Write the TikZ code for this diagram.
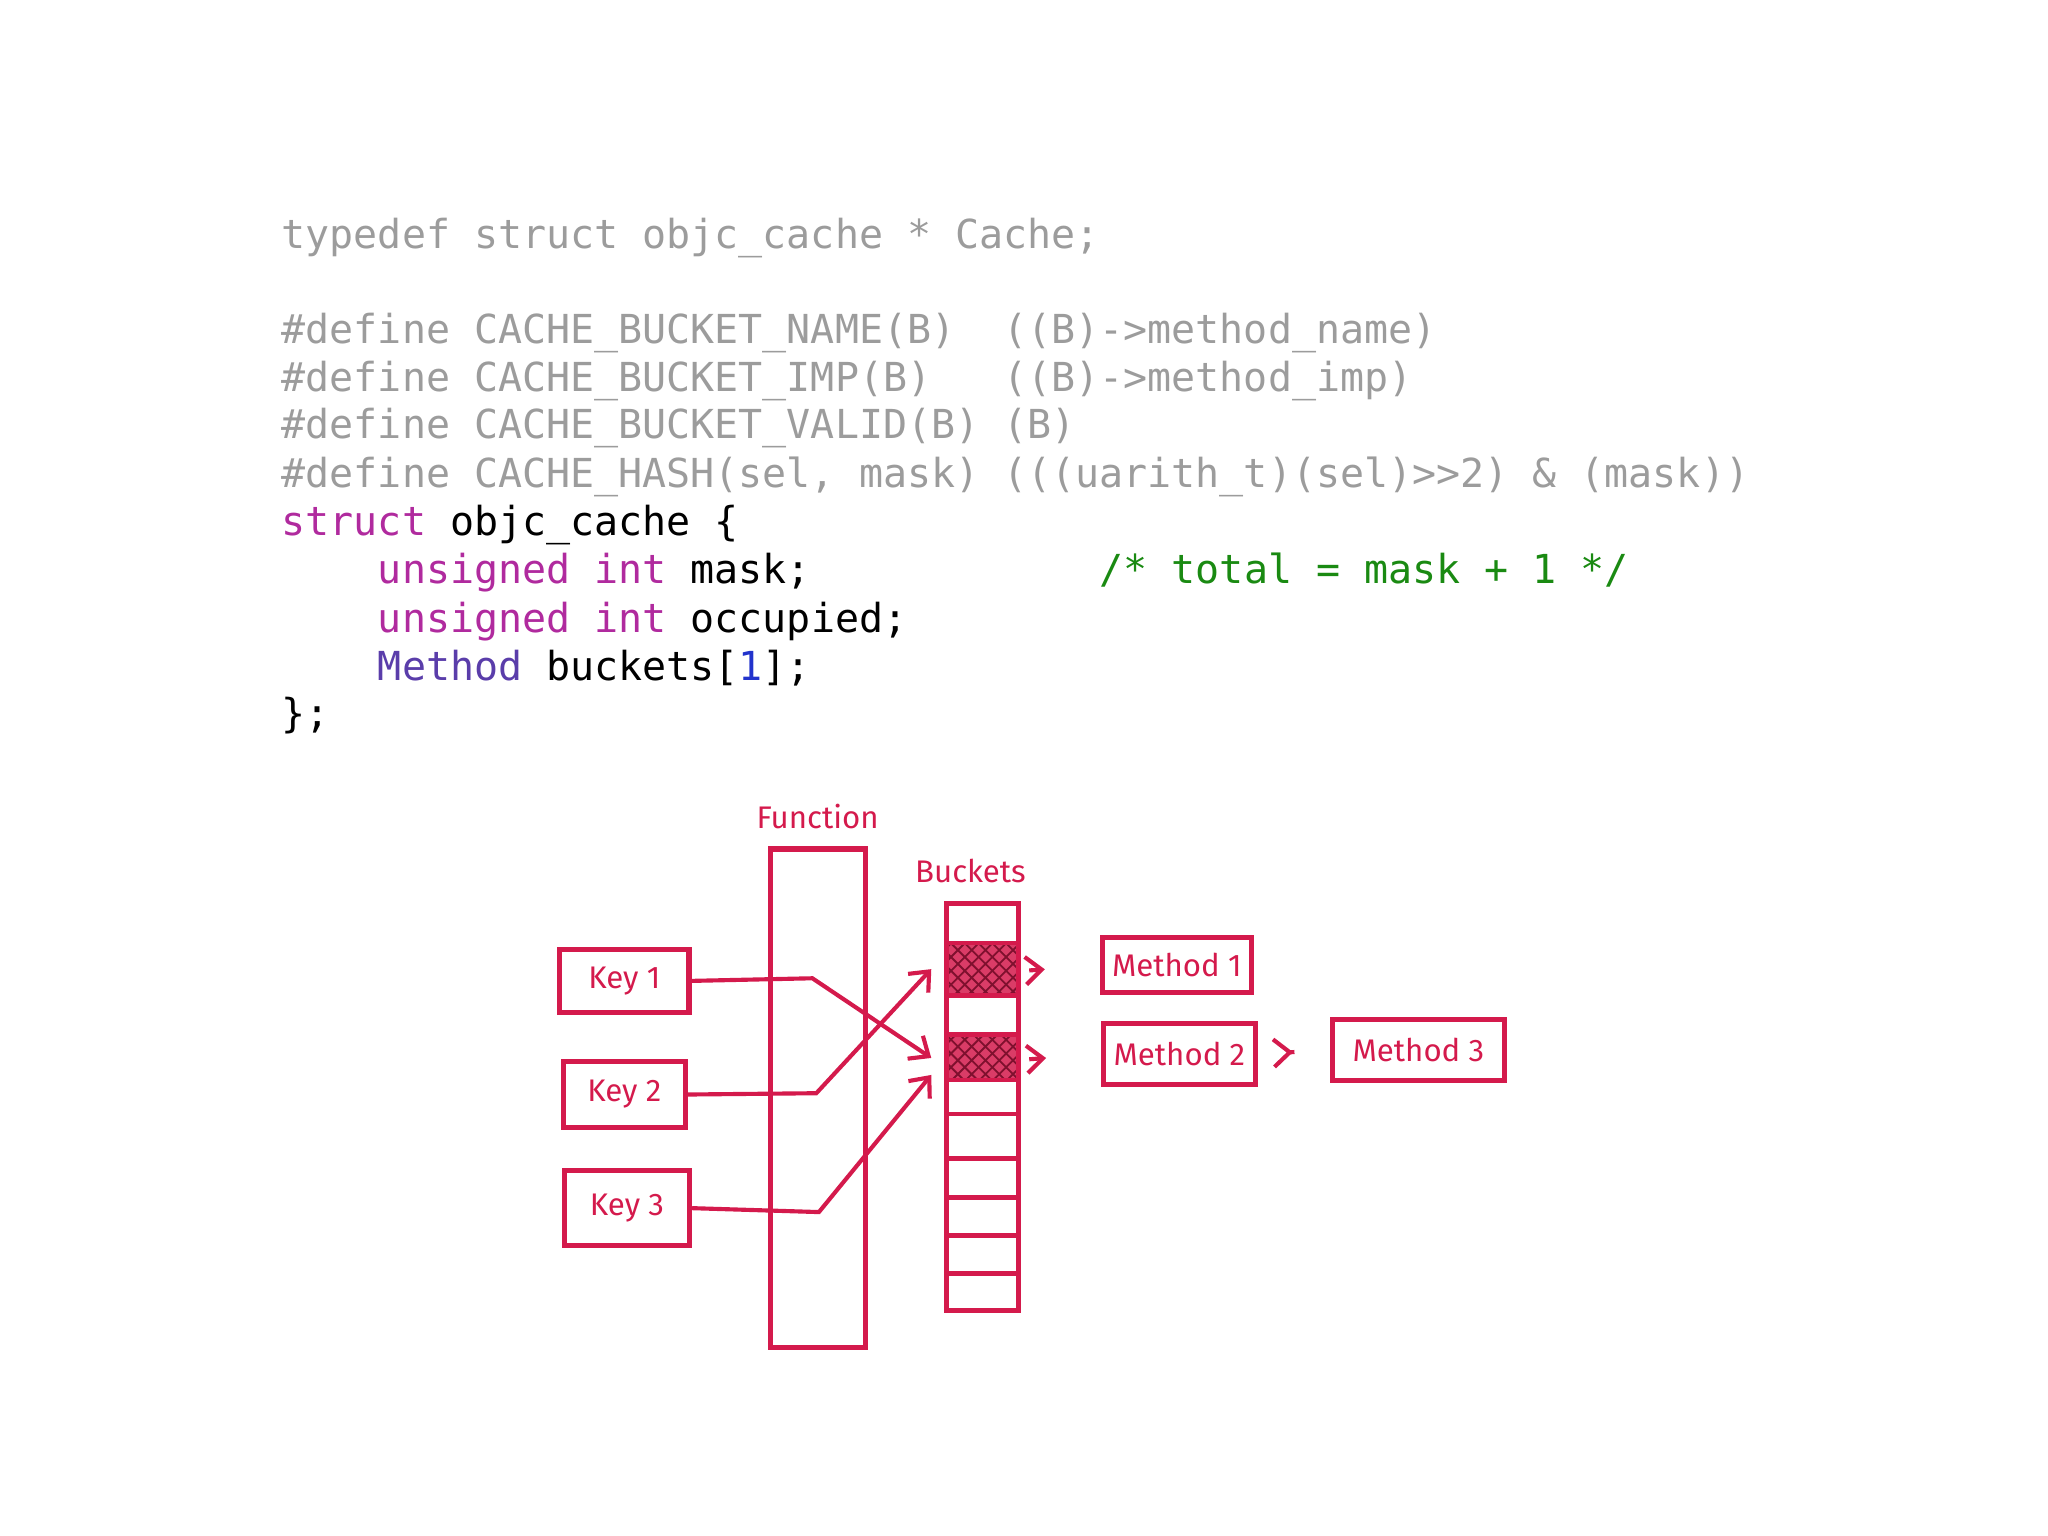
\documentclass[tikz,border=0pt]{standalone}
\usepackage{fontspec}
\setmainfont{Fira Sans}
\newfontfamily\codefont{DejaVu Sans Mono}
\usetikzlibrary{patterns,arrows.meta}
\definecolor{hand}{HTML}{D41A4C}
\definecolor{cgray}{HTML}{9C9C9C}
\definecolor{ckw}{HTML}{B02A9E}
\definecolor{ctype}{HTML}{5A3DAA}
\definecolor{cnum}{HTML}{2233CC}
\definecolor{cgreen}{HTML}{1A8A12}
\begin{document}
\begin{tikzpicture}[x=0.01cm,y=-0.01cm,
 code/.style={anchor=base west,inner sep=0,font=\codefont\fontsize{8.7}{10}\selectfont},
 box/.style={draw=hand,line width=1.1pt,inner sep=0},
 lbl/.style={text=hand,font=\fontsize{6.8}{8}\selectfont},
 conn/.style={draw=hand,line width=0.9pt},
 arr/.style={conn,-{Straight Barb[length=3.5pt,width=6pt]}}]
\useasboundingbox (0,0) rectangle (1568,1176);
% code
\node[code,text=cgray] (l1) at (215,190) {typedef struct objc\_cache * Cache;};
\node[code,text=cgray] (l2) at (215,263) {\#define CACHE\_BUCKET\_NAME(B)\ \ ((B)->method\_name)};
\node[code,text=cgray] (l3) at (215,300) {\#define CACHE\_BUCKET\_IMP(B)\ \ \ ((B)->method\_imp)};
\node[code,text=cgray] (l4) at (215,336) {\#define CACHE\_BUCKET\_VALID(B) (B)};
\node[code,text=cgray] (l5) at (215,373) {\#define CACHE\_HASH(sel, mask) (((uarith\_t)(sel)>>2) \& (mask))};
\node[code] (l6) at (215,410) {\textcolor{ckw}{struct} objc\_cache \{};
\node[code] (l7) at (215,447) {\ \ \ \ \textcolor{ckw}{unsigned int} mask;\ \ \ \ \ \ \ \ \ \ \ \ \textcolor{cgreen}{/* total = mask + 1 */}};
\node[code] (l8) at (215,484) {\ \ \ \ \textcolor{ckw}{unsigned int} occupied;};
\node[code] (l9) at (215,521) {\ \ \ \ \textcolor{ctype}{Method} buckets[\textcolor{cnum}{1}];};
\node[code] (l10) at (215,557) {\};};
% function
\draw[hand,line width=1.1pt] (590,650) rectangle (663,1032);
\node[lbl] (flab) at (626,625) {Function};
% buckets
\fill[hand,opacity=0.85] (725,722) rectangle (780,762);
\fill[hand,opacity=0.85] (725,792) rectangle (780,827);
\fill[pattern=crosshatch,pattern color=hand!60!black] (725,722) rectangle (780,762);
\fill[pattern=crosshatch,pattern color=hand!60!black] (725,792) rectangle (780,827);
\draw[hand,line width=1.1pt] (725,692) rectangle (780,1003);
\foreach \yy in {722,762,792,827,853,887,917,946,975}{\draw[hand,line width=1pt] (725,\yy) -- (780,\yy);}
\node[lbl] (blab) at (743,667) {Buckets};
\coordinate (b1) at (713,742);
\coordinate (b2) at (713,810);
\coordinate (b3) at (713,823);
% keys
\node[box,minimum width=0.99cm,minimum height=0.48cm,lbl] (k1) at (478,751) {Key 1};
\node[box,minimum width=0.93cm,minimum height=0.51cm,lbl] (k2) at (478,838) {Key 2};
\node[box,minimum width=0.96cm,minimum height=0.57cm,lbl] (k3) at (480,925) {Key 3};
% methods
\node[box,minimum width=1.14cm,minimum height=0.42cm,lbl] (m1) at (901,739) {Method 1};
\node[box,minimum width=1.16cm,minimum height=0.47cm,lbl] (m2) at (903,807) {Method 2};
\node[box,minimum width=1.32cm,minimum height=0.47cm,lbl] (m3) at (1086,804) {Method 3};
% connectors
\draw[arr] (k1.east) -- (622,749) -- (b2);
\draw[arr] (k2.east) -- (625,837) -- (b1);
\draw[arr] (k3.east) -- (627,928) -- (b3);
\draw[arr,shorten >=12] (788,743) -- (m1.west);
\draw[arr,shorten >=12] (788,811) -- (m2.west);
\draw[arr,shorten >=8,shorten <=8] (m2.east) -- (m3.west);
\end{tikzpicture}
\end{document}
